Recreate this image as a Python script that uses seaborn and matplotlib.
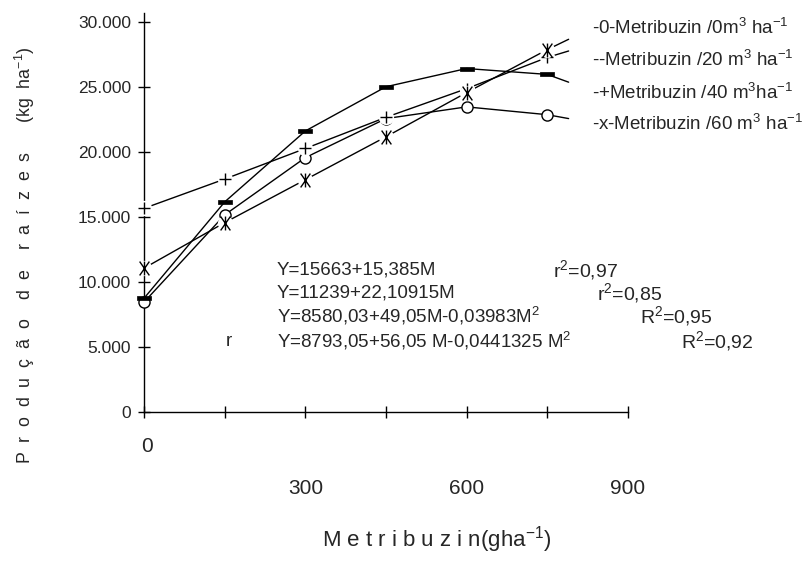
import matplotlib
matplotlib.use("Agg")
import matplotlib.pyplot as plt
from matplotlib import font_manager
from matplotlib.path import Path
import seaborn as sns
import pandas as pd

# ---------------- data ----------------
doses = [0, 150, 300, 450, 600, 750]          # Metribuzin (g ha-1)
line_end_dose = 790                            # curves run on a little past the last point
y_0m3 = [8500, 15200, 19600, 22600, 23500, 22900]     # open circles
y_20m3 = [8800, 16200, 21650, 25050, 26450, 26000]    # filled bars
y_40m3 = [15700, 17950, 20300, 22700, 24900, 27300]   # plus
y_60m3 = [11100, 14600, 17900, 21200, 24600, 27900]   # asterisk
end_0m3, end_20m3, end_40m3, end_60m3 = 22600, 25400, 27800, 28700

series_names = ["0m3", "20m3", "40m3", "60m3"]
legend_labels = [
    "-0-Metribuzin /0m$^3$ ha$^{-1}$",
    "--Metribuzin /20 m$^3$ ha$^{-1}$",
    "-+Metribuzin /40 m$^3$ha$^{-1}$",
    "-x-Metribuzin /60 m$^3$ ha$^{-1}$",
]
equations = [
    "Y=15663+15,385M",
    "Y=11239+22,10915M",
    "Y=8580,03+49,05M-0,03983M$^2$",
    "Y=8793,05+56,05 M-0,0441325 M$^2$",
]
fit_labels = ["r$^2$=0,97", "r$^2$=0,85", "R$^2$=0,95", "R$^2$=0,92"]
x_ticks = [0, 150, 300, 450, 600, 750, 900]
x_tick_labels = ["0", "300", "600", "900"]
x_tick_label_pos = [0, 300, 600, 900]
y_ticks = [0, 5000, 10000, 15000, 20000, 25000, 30000]
y_tick_labels = ["0", "5.000", "10.000", "15.000", "20.000", "25.000", "30.000"]

# ---------------- style ----------------
sns.set_theme(style="white")
plt.rcParams["font.family"] = ["Liberation Sans", "DejaVu Sans"]
plt.rcParams["mathtext.fontset"] = "custom"
plt.rcParams["mathtext.rm"] = "Liberation Sans"
plt.rcParams["mathtext.default"] = "regular"

try:
    font_manager.findfont("Liberation Sans Narrow", fallback_to_default=False)
    narrow_ok = True
except Exception:
    narrow_ok = False
if narrow_ok:
    ytick_family, ytick_size = ["Liberation Sans Narrow", "DejaVu Sans"], 14.5
else:
    ytick_family, ytick_size = ["Liberation Sans", "DejaVu Sans"], 12.5

W, H = 805, 574
fig = plt.figure(figsize=(W / 100, H / 100), dpi=100)
fig.patch.set_facecolor("white")


def fx(px):
    return px / W


def fy(py):
    return 1 - py / H


ax = fig.add_axes([fx(144.3), fy(412.3), (627.7 - 144.3) / W, (412.3 - 13.3) / H])
ax.set_facecolor("white")

# ---------------- lines ----------------
ends = [end_0m3, end_20m3, end_40m3, end_60m3]
values = [y_0m3, y_20m3, y_40m3, y_60m3]
rows = []
for name, vals, e in zip(series_names, values, ends):
    for d, v in zip(doses + [line_end_dose], vals + [e]):
        rows.append({"series": name, "dose": d, "y": v})
df = pd.DataFrame(rows)
sns.lineplot(data=df, x="dose", y="y", units="series", estimator=None,
             color="black", lw=1.0, sort=False, ax=ax, zorder=2, legend=False)

# ---------------- markers ----------------
rect = Path([(-1, -0.36), (1, -0.36), (1, 0.36), (-1, 0.36), (-1, -0.36)],
            [Path.MOVETO, Path.LINETO, Path.LINETO, Path.LINETO, Path.CLOSEPOLY])
aster = Path([(0, -1), (0, 1), (-0.7, -1), (0.7, 1), (-0.7, 1), (0.7, -1)],
             [Path.MOVETO, Path.LINETO, Path.MOVETO, Path.LINETO, Path.MOVETO, Path.LINETO])

# open circles
ax.plot(doses, y_0m3, ls="none", marker="o", ms=8, mfc="white", mec="black",
        mew=1.0, zorder=3.0, clip_on=False)
# filled bars
ax.plot(doses, y_20m3, ls="none", marker=rect, ms=9.5, mfc="black", mec="black",
        mew=0.5, zorder=3.1, clip_on=False)
# plus (with white halo)
ax.plot(doses, y_40m3, ls="none", marker="o", ms=11, mfc="white", mec="none",
        zorder=3.2, clip_on=False)
ax.plot(doses, y_40m3, ls="none", marker="+", ms=9, mec="black", mew=1.0,
        zorder=3.25, clip_on=False)
# asterisk (with white halo)
ax.plot(doses, y_60m3, ls="none", marker="o", ms=11, mfc="white", mec="none",
        zorder=3.3, clip_on=False)
ax.plot(doses, y_60m3, ls="none", marker=aster, ms=10, mfc="none", mec="black",
        mew=1.0, zorder=3.35, clip_on=False)

# ---------------- axes ----------------
ax.set_xlim(0, 900)
ax.set_ylim(0, 30700)
for s in ["top", "right"]:
    ax.spines[s].set_visible(False)
for s in ["left", "bottom"]:
    ax.spines[s].set_color("black")
    ax.spines[s].set_linewidth(1.0)

ax.set_yticks(y_ticks)
ax.set_yticklabels(y_tick_labels, fontsize=ytick_size, family=ytick_family)
ax.set_xticks(x_ticks)
ax.set_xticklabels([""] * len(x_ticks))
ax.tick_params(axis="both", direction="inout", length=9, width=1.0, color="black",
               left=True, bottom=True, pad=5)
ax.set_xlabel("")
ax.set_ylabel("")
ax.grid(False)

xt = ax.get_xaxis_transform()
for v, lab in zip(x_tick_label_pos, x_tick_labels):
    yy = -0.085 if v == 0 else -0.19
    ax.text(v + (5 if v == 0 else 0), yy, lab, transform=xt, ha="center", va="center",
            fontsize=15)

# ---------------- axis titles ----------------
ylab = "P  r  o  d  u  ç  ã  o    d  e    r  a  í  z  e  s      (kg  ha$^{-1}$)"
fig.text(fx(25), fy(255), ylab, rotation=90, ha="center", va="center", fontsize=12.8)
fig.text(fx(322), fy(540), "M e t r i b u z i n(gha$^{-1}$)", ha="left", va="center",
         fontsize=16)

# ---------------- legend text ----------------
for i, lab in enumerate(legend_labels):
    fig.text(fx(592), fy([28, 60, 93, 124][i]), lab, ha="left", va="center", fontsize=13.5)

# ---------------- equations ----------------
eq_y = [270, 293, 316, 341]
fit_x = [553, 597, 640, 681]
for i in range(4):
    fig.text(fx(277), fy(eq_y[i]), equations[i], ha="left", va="center", fontsize=13.5)
    fig.text(fx(fit_x[i]), fy(eq_y[i]), fit_labels[i], ha="left", va="center", fontsize=14)
fig.text(fx(226), fy(341), "r", ha="left", va="center", fontsize=13.5)

fig.savefig("out.png", dpi=100, facecolor="white")
